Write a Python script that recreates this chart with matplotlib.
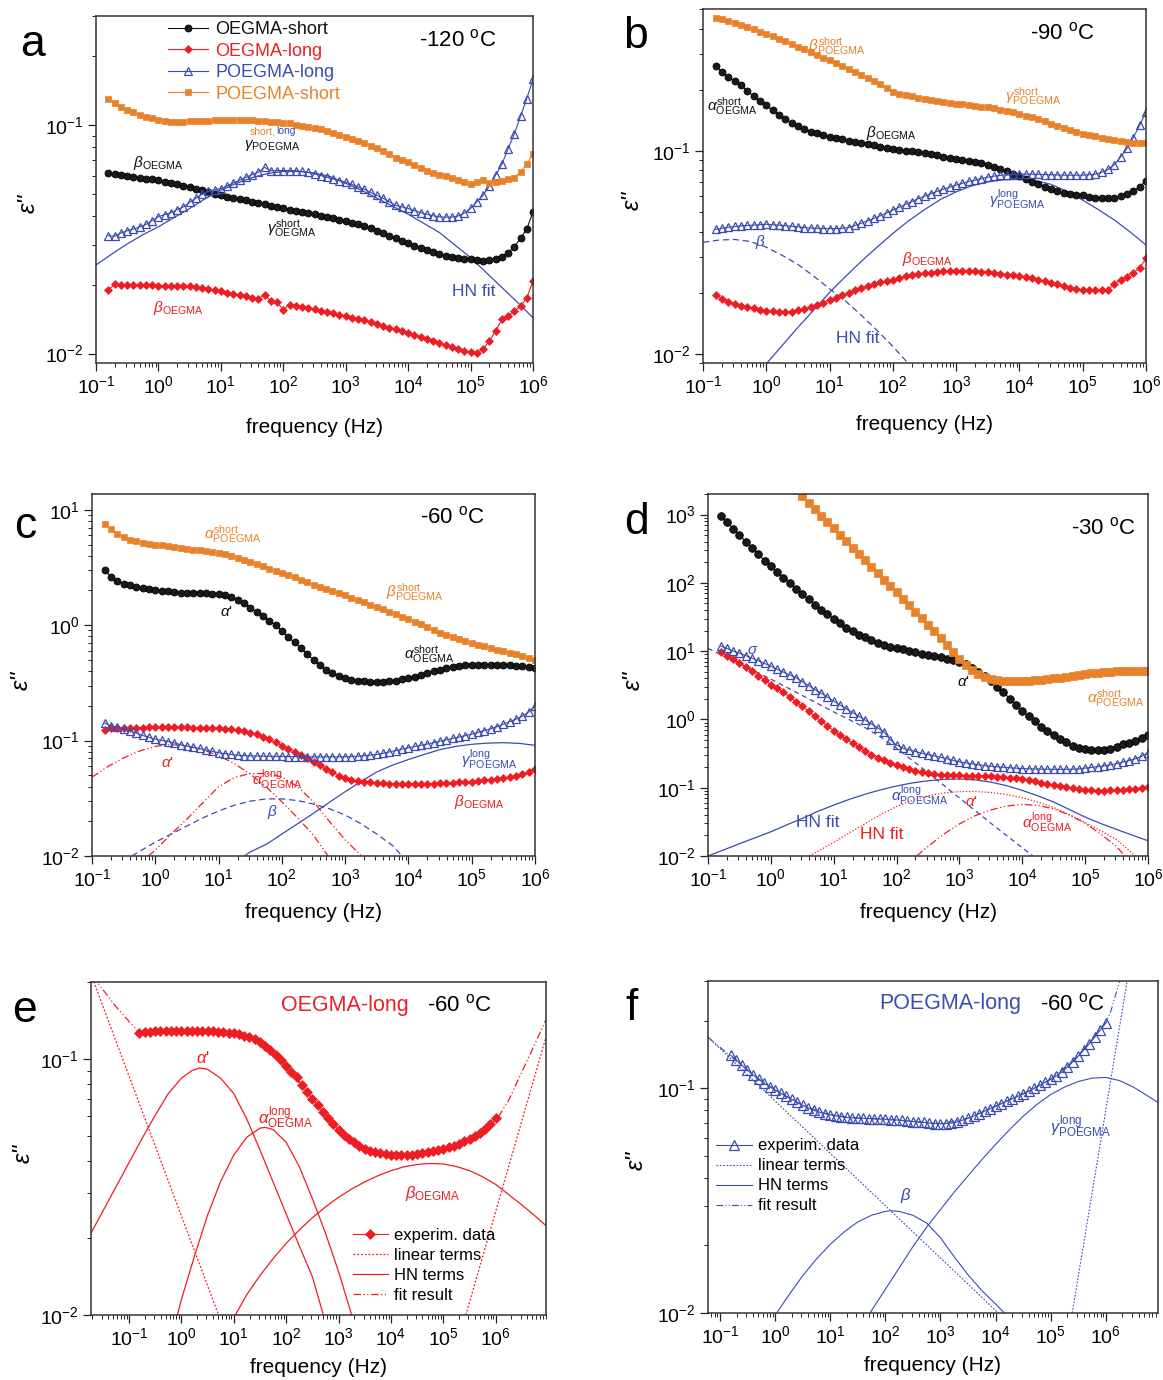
import numpy as np
import matplotlib
matplotlib.use("Agg")
import matplotlib.pyplot as plt
from matplotlib.ticker import LogLocator, NullFormatter
from matplotlib.lines import Line2D

plt.rcParams['font.family'] = ['Liberation Sans', 'DejaVu Sans']
plt.rcParams['mathtext.fontset'] = 'custom'
plt.rcParams['mathtext.rm'] = 'Liberation Sans'
plt.rcParams['mathtext.it'] = 'Liberation Sans:italic'
plt.rcParams['mathtext.bf'] = 'Liberation Sans:bold'
plt.rcParams['mathtext.sf'] = 'Liberation Sans'

nan = float('nan')

# ---------------- data (stored as log10) ----------------
# measurement frequencies, log10(f / Hz)
LOGF = [-0.8, -0.7, -0.6, -0.5, -0.4, -0.3, -0.2, -0.1, 0.0, 0.1,
        0.2, 0.3, 0.4, 0.5, 0.6, 0.7, 0.8, 0.9, 1.0, 1.1,
        1.2, 1.3, 1.4, 1.5, 1.6, 1.7, 1.8, 1.9, 2.0, 2.1,
        2.2, 2.3, 2.4, 2.5, 2.6, 2.7, 2.8, 2.9, 3.0, 3.1,
        3.2, 3.3, 3.4, 3.5, 3.6, 3.7, 3.8, 3.9, 4.0, 4.1,
        4.2, 4.3, 4.4, 4.5, 4.6, 4.7, 4.8, 4.9, 5.0, 5.1,
        5.2, 5.3, 5.4, 5.5, 5.6, 5.7, 5.8, 5.9, 6.0]

# panel a, -120 C : log10(eps'')
A_OEGMA_SHORT = [-1.210, -1.214, -1.218, -1.222, -1.226, -1.230, -1.234, -1.238, -1.242, -1.247,
                 -1.253, -1.259, -1.265, -1.271, -1.279, -1.286, -1.293, -1.300, -1.307, -1.313,
                 -1.319, -1.324, -1.330, -1.335, -1.341, -1.347, -1.353, -1.359, -1.365, -1.370,
                 -1.375, -1.380, -1.385, -1.390, -1.396, -1.402, -1.408, -1.414, -1.420, -1.427,
                 -1.435, -1.443, -1.452, -1.462, -1.473, -1.484, -1.495, -1.506, -1.517, -1.527,
                 -1.537, -1.547, -1.556, -1.565, -1.572, -1.578, -1.582, -1.585, -1.587, -1.592,
                 -1.594, -1.592, -1.585, -1.576, -1.560, -1.532, -1.496, -1.455, -1.380]
A_OEGMA_LONG = [-1.720, -1.697, -1.700, -1.701, -1.700, -1.700, -1.701, -1.701, -1.702, -1.702,
                -1.703, -1.704, -1.705, -1.706, -1.710, -1.714, -1.718, -1.723, -1.728, -1.733,
                -1.738, -1.743, -1.749, -1.755, -1.761, -1.742, -1.771, -1.776, -1.807, -1.786,
                -1.790, -1.795, -1.800, -1.806, -1.812, -1.818, -1.824, -1.830, -1.836, -1.842,
                -1.848, -1.855, -1.862, -1.870, -1.878, -1.886, -1.894, -1.901, -1.909, -1.918,
                -1.927, -1.936, -1.945, -1.954, -1.963, -1.972, -1.980, -1.988, -1.995, -1.996,
                -1.981, -1.945, -1.901, -1.850, -1.836, -1.814, -1.793, -1.757, -1.681]
A_POEGMA_LONG = [-1.484, -1.486, -1.472, -1.462, -1.455, -1.445, -1.435, -1.418, -1.401, -1.392,
                 -1.383, -1.370, -1.358, -1.338, -1.320, -1.303, -1.290, -1.283, -1.278, -1.266,
                 -1.253, -1.241, -1.229, -1.217, -1.206, -1.185, -1.200, -1.199, -1.199, -1.199,
                 -1.200, -1.203, -1.207, -1.214, -1.221, -1.229, -1.236, -1.243, -1.249, -1.260,
                 -1.271, -1.281, -1.295, -1.308, -1.320, -1.336, -1.351, -1.358, -1.365, -1.374,
                 -1.383, -1.390, -1.397, -1.401, -1.403, -1.403, -1.398, -1.385, -1.365, -1.336,
                 -1.307, -1.267, -1.220, -1.172, -1.104, -1.039, -0.962, -0.884, -0.800]
A_POEGMA_SHORT = [-0.887, -0.904, -0.920, -0.933, -0.945, -0.957, -0.964, -0.970, -0.977, -0.982,
                  -0.985, -0.986, -0.985, -0.984, -0.983, -0.982, -0.981, -0.980, -0.979, -0.978,
                  -0.978, -0.978, -0.979, -0.980, -0.981, -0.983, -0.985, -0.987, -0.989, -0.993,
                  -0.998, -1.003, -1.008, -1.013, -1.019, -1.026, -1.034, -1.043, -1.053, -1.062,
                  -1.071, -1.080, -1.090, -1.101, -1.114, -1.128, -1.142, -1.152, -1.162, -1.175,
                  -1.187, -1.199, -1.209, -1.217, -1.224, -1.230, -1.240, -1.250, -1.259, -1.250,
                  -1.239, -1.252, -1.247, -1.243, -1.238, -1.230, -1.204, -1.170, -1.126]
A_FIT_LOGF = [-1.0, -0.75, -0.5, -0.25, 0.0, 0.25, 0.5, 0.75, 1.0, 1.25, 1.5, 1.75, 2.0, 2.25, 2.5,
              2.75, 3.0, 3.25, 3.5, 3.75, 4.0, 4.25, 4.5, 4.75, 5.0, 5.25, 5.5, 5.75, 6.0]
A_FIT = [-1.612, -1.565, -1.52, -1.48, -1.445, -1.405, -1.365, -1.322, -1.285, -1.255, -1.23, -1.212,
         -1.203, -1.203, -1.21, -1.225, -1.255, -1.285, -1.32, -1.355, -1.39, -1.43, -1.47, -1.525,
         -1.58, -1.645, -1.71, -1.775, -1.843]

# panel b, -90 C
B_OEGMA_SHORT = [-0.582, -0.612, -0.636, -0.657, -0.678, -0.704, -0.731, -0.754, -0.775, -0.800,
                 -0.822, -0.843, -0.862, -0.880, -0.894, -0.905, -0.913, -0.923, -0.931, -0.937,
                 -0.943, -0.950, -0.956, -0.962, -0.967, -0.973, -0.979, -0.984, -0.989, -0.994,
                 -0.999, -1.003, -1.008, -1.012, -1.017, -1.022, -1.028, -1.033, -1.038, -1.044,
                 -1.050, -1.056, -1.062, -1.069, -1.078, -1.088, -1.100, -1.113, -1.126, -1.138,
                 -1.152, -1.165, -1.177, -1.188, -1.198, -1.207, -1.213, -1.217, -1.220, -1.226,
                 -1.231, -1.234, -1.234, -1.231, -1.224, -1.215, -1.200, -1.177, -1.149]
B_OEGMA_LONG = [-1.710, -1.728, -1.743, -1.756, -1.767, -1.772, -1.777, -1.783, -1.789, -1.791,
                -1.792, -1.792, -1.792, -1.787, -1.779, -1.770, -1.760, -1.748, -1.734, -1.724,
                -1.713, -1.699, -1.685, -1.675, -1.665, -1.656, -1.649, -1.642, -1.636, -1.627,
                -1.619, -1.613, -1.608, -1.604, -1.600, -1.597, -1.594, -1.592, -1.590, -1.591,
                -1.592, -1.593, -1.595, -1.598, -1.602, -1.606, -1.610, -1.613, -1.616, -1.622,
                -1.629, -1.636, -1.643, -1.650, -1.658, -1.667, -1.675, -1.681, -1.685, -1.687,
                -1.688, -1.688, -1.685, -1.655, -1.637, -1.620, -1.600, -1.579, -1.530]
B_POEGMA_LONG = [-1.387, -1.382, -1.377, -1.373, -1.370, -1.368, -1.366, -1.364, -1.362, -1.364,
                 -1.366, -1.369, -1.372, -1.375, -1.378, -1.381, -1.382, -1.383, -1.383, -1.383,
                 -1.382, -1.378, -1.368, -1.357, -1.345, -1.333, -1.320, -1.306, -1.292, -1.278,
                 -1.264, -1.250, -1.236, -1.224, -1.212, -1.200, -1.189, -1.179, -1.169, -1.160,
                 -1.151, -1.144, -1.137, -1.130, -1.125, -1.121, -1.118, -1.116, -1.115, -1.115,
                 -1.115, -1.116, -1.117, -1.118, -1.119, -1.120, -1.120, -1.120, -1.120, -1.118,
                 -1.115, -1.106, -1.092, -1.068, -1.030, -0.988, -0.935, -0.874, -0.808]
B_POEGMA_SHORT = [-0.344, -0.352, -0.362, -0.372, -0.382, -0.392, -0.402, -0.412, -0.423, -0.435,
                  -0.447, -0.459, -0.472, -0.486, -0.500, -0.515, -0.528, -0.541, -0.554, -0.568,
                  -0.582, -0.596, -0.611, -0.625, -0.640, -0.656, -0.672, -0.690, -0.708, -0.718,
                  -0.726, -0.732, -0.738, -0.744, -0.749, -0.754, -0.759, -0.763, -0.767, -0.770,
                  -0.774, -0.778, -0.782, -0.786, -0.791, -0.797, -0.804, -0.811, -0.818, -0.826,
                  -0.835, -0.845, -0.855, -0.866, -0.877, -0.888, -0.898, -0.907, -0.915, -0.922,
                  -0.929, -0.936, -0.942, -0.948, -0.953, -0.957, -0.960, -0.961, -0.962]
B_GAMMA_LOGF = [0.0, 0.25, 0.5, 0.75, 1.0, 1.25, 1.5, 1.75, 2.0, 2.25, 2.5, 2.75, 3.0, 3.25, 3.5,
                3.75, 4.0, 4.25, 4.5, 4.75, 5.0, 5.25, 5.5, 5.75, 6.0]
B_GAMMA = [-2.05, -1.96, -1.87, -1.785, -1.698, -1.62, -1.545, -1.475, -1.407, -1.345, -1.29, -1.24,
           -1.202, -1.172, -1.153, -1.143, -1.141, -1.147, -1.165, -1.2, -1.243, -1.29, -1.341,
           -1.40, -1.464]
B_BETA_LOGF = [-1.0, -0.75, -0.5, -0.25, 0.0, 0.25, 0.5, 0.75, 1.0, 1.25, 1.5, 1.75, 2.0, 2.25]
B_BETA = [-1.451, -1.440, -1.437, -1.447, -1.475, -1.515, -1.560, -1.618, -1.680, -1.740, -1.810,
          -1.885, -1.964, -2.05]

# panel c, -60 C
C_OEGMA_SHORT = [0.478, 0.419, 0.380, 0.358, 0.346, 0.330, 0.320, 0.310, 0.302, 0.297,
                 0.292, 0.287, 0.282, 0.279, 0.277, 0.276, 0.275, 0.274, 0.272, 0.258,
                 0.240, 0.218, 0.190, 0.152, 0.117, 0.082, 0.040, 0.000, -0.050, -0.105,
                 -0.150, -0.200, -0.250, -0.300, -0.345, -0.387, -0.415, -0.440, -0.460, -0.473,
                 -0.482, -0.487, -0.490, -0.490, -0.489, -0.487, -0.480, -0.470, -0.460, -0.446,
                 -0.431, -0.416, -0.400, -0.385, -0.371, -0.360, -0.352, -0.347, -0.344, -0.342,
                 -0.341, -0.341, -0.342, -0.344, -0.347, -0.350, -0.355, -0.360, -0.367]
C_OEGMA_LONG = [-0.906, -0.894, -0.891, -0.890, -0.889, -0.888, -0.887, -0.886, -0.886, -0.886,
                -0.886, -0.886, -0.886, -0.886, -0.887, -0.888, -0.889, -0.891, -0.894, -0.898,
                -0.903, -0.910, -0.920, -0.932, -0.947, -0.965, -0.990, -1.015, -1.043, -1.072,
                -1.100, -1.128, -1.155, -1.183, -1.212, -1.243, -1.275, -1.303, -1.325, -1.340,
                -1.350, -1.357, -1.363, -1.368, -1.371, -1.373, -1.374, -1.375, -1.375, -1.375,
                -1.374, -1.373, -1.372, -1.370, -1.368, -1.365, -1.362, -1.358, -1.355, -1.350,
                -1.345, -1.339, -1.332, -1.325, -1.316, -1.305, -1.292, -1.275, -1.246]
C_POEGMA_LONG = [-0.848, -0.871, -0.885, -0.900, -0.915, -0.935, -0.955, -0.972, -0.988, -0.998,
                 -1.008, -1.020, -1.035, -1.048, -1.058, -1.068, -1.080, -1.093, -1.105, -1.113,
                 -1.120, -1.127, -1.130, -1.132, -1.134, -1.135, -1.136, -1.137, -1.137, -1.138,
                 -1.139, -1.140, -1.140, -1.141, -1.141, -1.141, -1.141, -1.141, -1.140, -1.138,
                 -1.135, -1.131, -1.126, -1.120, -1.110, -1.098, -1.086, -1.074, -1.062, -1.051,
                 -1.040, -1.030, -1.018, -1.005, -0.993, -0.981, -0.969, -0.957, -0.944, -0.929,
                 -0.913, -0.897, -0.880, -0.858, -0.836, -0.814, -0.788, -0.752, -0.701]
C_POEGMA_SHORT = [0.874, 0.830, 0.790, 0.765, 0.742, 0.727, 0.716, 0.706, 0.698, 0.691,
                  0.684, 0.677, 0.670, 0.663, 0.655, 0.648, 0.640, 0.633, 0.625, 0.613,
                  0.600, 0.586, 0.567, 0.549, 0.531, 0.510, 0.490, 0.472, 0.455, 0.437,
                  0.416, 0.395, 0.373, 0.350, 0.332, 0.313, 0.295, 0.277, 0.258, 0.238,
                  0.218, 0.197, 0.177, 0.157, 0.137, 0.116, 0.095, 0.074, 0.053, 0.030,
                  0.006, -0.018, -0.042, -0.064, -0.083, -0.101, -0.119, -0.136, -0.153, -0.168,
                  -0.183, -0.197, -0.211, -0.225, -0.240, -0.254, -0.269, -0.284, -0.299]
C_ALPHAP_LOGF = [-1.0, -0.75, -0.5, -0.25, 0.0, 0.25, 0.5, 0.75, 1.0, 1.25, 1.5, 1.75, 2.0, 2.25, 2.5, 2.73]
C_ALPHAP = [-1.317, -1.225, -1.150, -1.090, -1.050, -1.035, -1.045, -1.080, -1.130, -1.200, -1.290,
            -1.400, -1.530, -1.670, -1.820, -2.0]
C_ALPHAL_LOGF = [-0.11, 0.0, 0.25, 0.5, 0.75, 1.0, 1.25, 1.5, 1.75, 2.0, 2.25, 2.5, 2.75, 3.0, 3.26]
C_ALPHAL = [-2.0, -1.95, -1.81, -1.68, -1.54, -1.40, -1.32, -1.285, -1.285, -1.315, -1.40, -1.53,
            -1.70, -1.86, -2.0]
C_BETA_LOGF = [-0.37, -0.25, 0.0, 0.25, 0.5, 0.75, 1.0, 1.25, 1.5, 1.75, 2.0, 2.25, 2.5, 2.75, 3.0,
               3.25, 3.5, 3.75, 3.9]
C_BETA = [-2.0, -1.96, -1.88, -1.81, -1.74, -1.67, -1.61, -1.56, -1.525, -1.505, -1.505, -1.52,
          -1.55, -1.59, -1.645, -1.72, -1.81, -1.91, -2.0]
C_GAMMA_LOGF = [1.41, 1.5, 1.75, 2.0, 2.25, 2.5, 2.75, 3.0, 3.25, 3.5, 3.75, 4.0, 4.25, 4.5, 4.75,
                5.0, 5.25, 5.5, 5.75, 6.0]
C_GAMMA = [-2.0, -1.965, -1.90, -1.81, -1.72, -1.63, -1.535, -1.443, -1.355, -1.272, -1.212, -1.164,
           -1.12, -1.078, -1.05, -1.032, -1.022, -1.018, -1.024, -1.041]

# panel d, -30 C
D_OEGMA_SHORT = [2.975, 2.890, 2.790, 2.700, 2.605, 2.510, 2.420, 2.325, 2.245, 2.160,
                 2.075, 1.995, 1.915, 1.835, 1.757, 1.680, 1.607, 1.540, 1.475, 1.408,
                 1.345, 1.290, 1.240, 1.200, 1.158, 1.120, 1.087, 1.062, 1.043, 1.025,
                 1.006, 0.984, 0.962, 0.945, 0.929, 0.910, 0.890, 0.868, 0.842, 0.810,
                 0.760, 0.700, 0.632, 0.562, 0.480, 0.395, 0.305, 0.215, 0.123, 0.045,
                 -0.030, -0.105, -0.170, -0.230, -0.285, -0.335, -0.383, -0.415, -0.432, -0.443,
                 -0.448, -0.446, -0.432, -0.398, -0.365, -0.338, -0.310, -0.270, -0.224]
D_OEGMA_LONG = [0.991, 0.930, 0.884, 0.830, 0.768, 0.705, 0.640, 0.575, 0.510, 0.455,
                0.396, 0.330, 0.260, 0.190, 0.120, 0.048, -0.022, -0.095, -0.166, -0.235,
                -0.290, -0.345, -0.400, -0.457, -0.517, -0.560, -0.600, -0.637, -0.668, -0.700,
                -0.730, -0.752, -0.772, -0.790, -0.803, -0.810, -0.814, -0.817, -0.819, -0.822,
                -0.825, -0.828, -0.831, -0.834, -0.838, -0.845, -0.852, -0.860, -0.869, -0.885,
                -0.905, -0.927, -0.946, -0.965, -0.982, -0.996, -1.010, -1.022, -1.032, -1.038,
                -1.042, -1.043, -1.040, -1.035, -1.028, -1.020, -1.012, -1.003, -0.993]
D_POEGMA_LONG = [1.075, 1.041, 1.000, 0.970, 0.935, 0.898, 0.858, 0.820, 0.780, 0.735,
                 0.693, 0.652, 0.610, 0.553, 0.495, 0.438, 0.384, 0.327, 0.268, 0.210,
                 0.156, 0.100, 0.046, -0.010, -0.068, -0.125, -0.180, -0.300, -0.375, -0.420,
                 -0.448, -0.470, -0.495, -0.515, -0.535, -0.555, -0.575, -0.600, -0.621, -0.636,
                 -0.650, -0.664, -0.676, -0.686, -0.694, -0.701, -0.708, -0.714, -0.720, -0.723,
                 -0.726, -0.728, -0.729, -0.730, -0.730, -0.730, -0.729, -0.724, -0.712, -0.703,
                 -0.692, -0.680, -0.665, -0.646, -0.626, -0.602, -0.575, -0.540, -0.487]
D_POEGMA_SHORT = [nan, nan, nan, nan, nan, nan, nan, nan, nan, nan,
                  nan, nan, 3.36, 3.27, 3.17, 3.08, 2.98, 2.89, 2.80, 2.70,
                  2.61, 2.51, 2.42, 2.33, 2.23, 2.14, 2.04, 1.95, 1.86, 1.76,
                  1.67, 1.57, 1.48, 1.38, 1.29, 1.19, 1.09, 0.99, 0.89, 0.80,
                  0.72, 0.66, 0.62, 0.59, 0.575, 0.567, 0.563, 0.562, 0.562, 0.565,
                  0.570, 0.578, 0.588, 0.600, 0.612, 0.625, 0.638, 0.650, 0.662, 0.673,
                  0.683, 0.691, 0.698, 0.703, 0.706, 0.708, 0.709, 0.709, 0.708]
D_SIGMA_LOGF = [-1.0, -0.5, 0.0, 0.5, 1.0, 1.5, 1.75, 2.0, 2.5, 3.0, 3.5, 4.0, 4.17]
D_SIGMA = [1.04, 0.82, 0.59, 0.35, 0.11, -0.12, -0.26, -0.42, -0.78, -1.15, -1.52, -1.88, -2.0]
D_HNB_LOGF = [-1.0, -0.75, -0.5, -0.25, 0.0, 0.25, 0.5, 0.75, 1.0, 1.25, 1.5, 1.75, 2.0, 2.25, 2.5,
              2.75, 3.0, 3.25, 3.5, 3.75, 4.0, 4.25, 4.5, 4.75, 5.0, 5.25, 5.5, 5.75, 6.0]
D_HNB = [-2.0, -1.91, -1.82, -1.733, -1.645, -1.545, -1.45, -1.345, -1.255, -1.17, -1.095, -1.03,
         -0.975, -0.93, -0.898, -0.878, -0.872, -0.885, -0.918, -0.97, -1.04, -1.12, -1.21, -1.32,
         -1.43, -1.525, -1.61, -1.695, -1.777]
D_HNR1_LOGF = [0.61, 0.75, 1.0, 1.25, 1.5, 1.75, 2.0, 2.25, 2.5, 2.75, 3.0, 3.25, 3.5, 3.75, 4.0,
               4.25, 4.5, 4.75, 5.0, 5.25, 5.5, 5.8]
D_HNR1 = [-2.0, -1.93, -1.80, -1.66, -1.525, -1.39, -1.275, -1.185, -1.12, -1.077, -1.057, -1.055,
          -1.07, -1.10, -1.145, -1.21, -1.29, -1.395, -1.51, -1.63, -1.76, -2.0]
D_HNR2_LOGF = [2.32, 2.5, 2.75, 3.0, 3.25, 3.5, 3.75, 4.0, 4.25, 4.5, 4.75, 5.0, 5.25, 5.5, 5.63]
D_HNR2 = [-2.0, -1.86, -1.68, -1.53, -1.41, -1.325, -1.268, -1.245, -1.258, -1.31, -1.40, -1.52,
          -1.68, -1.86, -2.0]

# panel e, OEGMA-long -60 C
E_DATA = [-0.899, -0.895, -0.893, -0.892, -0.892, -0.892, -0.891, -0.891, -0.890, -0.890,
          -0.890, -0.890, -0.890, -0.891, -0.892, -0.893, -0.895, -0.897, -0.900, -0.904,
          -0.908, -0.913, -0.920, -0.932, -0.948, -0.965, -0.985, -1.005, -1.028, -1.050,
          -1.072, -1.100, -1.130, -1.155, -1.180, -1.205, -1.232, -1.255, -1.278, -1.298,
          -1.312, -1.325, -1.340, -1.350, -1.358, -1.365, -1.369, -1.372, -1.374, -1.375,
          -1.375, -1.374, -1.373, -1.370, -1.367, -1.364, -1.360, -1.355, -1.350, -1.345,
          -1.338, -1.331, -1.322, -1.312, -1.300, -1.288, -1.272, -1.253, -1.232]
E_LIN1_LOGF = [-1.725, 0.71]
E_LIN1 = [-0.670, -2.0]
E_LIN2_LOGF = [5.43, 6.96]
E_LIN2 = [-2.0, -0.914]
E_FIT_LOGF = [-1.70, -1.5, -1.25, -1.0, -0.82, 0.0, 1.0, 1.5, 2.0, 2.5, 3.0, 3.5, 4.0, 4.5, 5.0, 5.5,
              6.04, 6.25, 6.5, 6.75, 6.96]
E_FIT = [-0.675, -0.728, -0.795, -0.853, -0.893, -0.890, -0.900, -0.932, -1.028, -1.155, -1.278,
         -1.350, -1.374, -1.370, -1.350, -1.312, -1.23, -1.16, -1.05, -0.94, -0.846]
E_HN1_LOGF = [-1.725, -1.5, -1.25, -1.0, -0.75, -0.5, -0.25, 0.0, 0.2, 0.35, 0.5, 0.75, 1.0, 1.25,
              1.5, 1.75, 2.0, 2.25, 2.5, 2.71]
E_HN1 = [-1.68, -1.595, -1.50, -1.405, -1.31, -1.22, -1.135, -1.075, -1.045, -1.035, -1.04, -1.075,
         -1.135, -1.235, -1.355, -1.48, -1.605, -1.73, -1.85, -2.0]
E_HN2_LOGF = [-0.076, 0.0, 0.25, 0.5, 0.75, 1.0, 1.25, 1.5, 1.6, 1.75, 2.0, 2.25, 2.5, 2.75, 3.0, 3.25]
E_HN2 = [-2.0, -1.94, -1.77, -1.61, -1.478, -1.375, -1.305, -1.27, -1.267, -1.275, -1.325, -1.42,
         -1.545, -1.68, -1.83, -2.0]
E_HN3_LOGF = [1.03, 1.25, 1.5, 1.75, 2.0, 2.25, 2.5, 2.75, 3.0, 3.25, 3.5, 3.75, 4.0, 4.25, 4.5,
              4.75, 5.0, 5.25, 5.5, 5.75, 6.0, 6.25, 6.5, 6.75, 6.96]
E_HN3 = [-2.0, -1.92, -1.846, -1.78, -1.72, -1.668, -1.62, -1.578, -1.54, -1.508, -1.48, -1.456,
         -1.436, -1.421, -1.412, -1.408, -1.41, -1.42, -1.436, -1.46, -1.49, -1.53, -1.57, -1.613,
         -1.651]

# panel f, POEGMA-long -60 C
F_DATA = [-0.854, -0.876, -0.897, -0.920, -0.941, -0.960, -0.978, -0.993, -1.007, -1.022,
          -1.036, -1.049, -1.062, -1.076, -1.088, -1.098, -1.106, -1.113, -1.118, -1.123,
          -1.127, -1.130, -1.132, -1.133, -1.134, -1.135, -1.136, -1.137, -1.138, -1.140,
          -1.141, -1.143, -1.145, -1.148, -1.150, -1.152, -1.155, -1.157, -1.158, -1.157,
          -1.155, -1.150, -1.142, -1.134, -1.124, -1.113, -1.102, -1.091, -1.080, -1.069,
          -1.058, -1.047, -1.036, -1.025, -1.014, -1.001, -0.987, -0.973, -0.960, -0.946,
          -0.928, -0.906, -0.883, -0.857, -0.830, -0.802, -0.772, -0.740, -0.709]
F_LIN1_LOGF = [-1.216, 4.05]
F_LIN1 = [-0.773, -2.0]
F_LIN2_LOGF = [5.39, 6.385]
F_LIN2 = [-2.0, -0.525]
F_FIT_LOGF = [-1.216, -0.81, -0.4, 0.0, 0.5, 1.0, 1.5, 2.0, 2.5, 3.0, 3.5, 4.0, 4.5, 5.0, 5.5, 6.0,
              6.1, 6.2, 6.26]
F_FIT = [-0.773, -0.856, -0.941, -1.007, -1.076, -1.118, -1.133, -1.138, -1.148, -1.158, -1.134,
         -1.080, -1.025, -0.960, -0.857, -0.709, -0.65, -0.565, -0.52]
F_HN1_LOGF = [0.03, 0.25, 0.5, 0.75, 1.0, 1.25, 1.5, 1.75, 2.0, 2.1, 2.25, 2.5, 2.75, 3.0, 3.25,
              3.5, 3.75, 4.0, 4.16]
F_HN1 = [-2.0, -1.92, -1.835, -1.76, -1.695, -1.64, -1.595, -1.565, -1.548, -1.545, -1.548, -1.565,
         -1.60, -1.665, -1.75, -1.83, -1.90, -1.96, -2.0]
F_HN2_LOGF = [1.72, 2.0, 2.25, 2.5, 2.75, 3.0, 3.25, 3.5, 3.75, 4.0, 4.25, 4.5, 4.75, 5.0, 5.25, 5.5,
              5.75, 6.0, 6.25, 6.5, 6.75, 6.946]
F_HN2 = [-2.0, -1.895, -1.80, -1.705, -1.618, -1.540, -1.462, -1.390, -1.318, -1.250, -1.185, -1.125,
         -1.072, -1.028, -0.995, -0.970, -0.955, -0.952, -0.966, -0.995, -1.033, -1.063]

SERIES_NAMES = ['OEGMA-short', 'OEGMA-long', 'POEGMA-long', 'POEGMA-short']

# ---------------- styles ----------------
BLACK = '#111111'
RED = '#EE1D23'
BLUE = '#3A4CB0'
ORANGE = '#E8822A'
EPS_LABEL = "\u03b5''"


def st_black(ms=5.0):
    return dict(color=BLACK, marker='o', ms=ms, mfc='#1a1a1a', mec='#000000', mew=0.6, lw=0.8, ls='-')


def st_red(ms=4.0):
    return dict(color=RED, marker='D', ms=ms, mfc=RED, mec=RED, mew=0.5, lw=0.8, ls='-')


def st_blue(ms=5.5):
    return dict(color=BLUE, marker='^', ms=ms, mfc='none', mec=BLUE, mew=0.9, lw=0.8, ls='-')


def st_orange(ms=5.0):
    return dict(color=ORANGE, marker='s', ms=ms, mfc=ORANGE, mec=ORANGE, mew=0.5, lw=0.8, ls='-')


def P(v):
    return np.power(10.0, np.asarray(v, dtype=float))


fig = plt.figure(figsize=(11.63, 13.80), dpi=100)
W, H = 1163.0, 1380.0


def make_ax(l, t, r, b):
    return fig.add_axes([l / W, 1 - b / H, (r - l) / W, (b - t) / H])


def style_ax(ax, xlim, ylim, ylab_xy, xlab_y):
    ax.set_xscale('log')
    ax.set_yscale('log')
    ax.set_xlim(*xlim)
    ax.set_ylim(*ylim)
    for axis in (ax.xaxis, ax.yaxis):
        axis.set_major_locator(LogLocator(base=10, numticks=30))
        axis.set_minor_locator(LogLocator(base=10, subs=[2, 3, 4, 5, 6, 7, 8, 9], numticks=30))
        axis.set_minor_formatter(NullFormatter())
    ax.tick_params(which='both', direction='out', top=False, right=False, labelsize=14,
                   color='#222222')
    ax.tick_params(which='major', length=5.5, width=0.9)
    ax.tick_params(which='minor', length=3, width=0.7)
    for s in ax.spines.values():
        s.set_linewidth(1.1)
        s.set_color('#333333')
    ax.set_xlabel('frequency (Hz)', fontsize=15)
    ax.xaxis.set_label_coords(0.5, xlab_y)
    ax.set_ylabel(EPS_LABEL, fontsize=17, fontstyle='italic')
    ax.yaxis.set_label_coords(*ylab_xy)


def txt(ax, x, y, s, color, size=11, ha='left'):
    ax.text(x, y, s, transform=ax.transAxes, color=color, fontsize=size, ha=ha, va='center')


ALPHA_P = r"$\alpha$'"
FREQ = P(LOGF)

# ================= panel a =================
ax = make_ax(96, 16, 533, 363)
style_ax(ax, (0.1, 1e6), (0.0091, 0.30), (-0.13, 0.46), -0.158)
ax.plot(P(A_FIT_LOGF), P(A_FIT), color=BLUE, lw=0.9)
h1, = ax.plot(FREQ, P(A_OEGMA_SHORT), **st_black())
h2, = ax.plot(FREQ, P(A_OEGMA_LONG), **st_red())
h3, = ax.plot(FREQ, P(A_POEGMA_LONG), **st_blue())
h4, = ax.plot(FREQ, P(A_POEGMA_SHORT), **st_orange())
leg = ax.legend([h1, h2, h3, h4], SERIES_NAMES, loc='upper left', bbox_to_anchor=(0.165, 0.985),
                frameon=False, fontsize=13, handlelength=2.2, handletextpad=0.4,
                labelspacing=0.25, borderpad=0, borderaxespad=0, numpoints=1)
for t, c in zip(leg.get_texts(), [BLACK, RED, BLUE, ORANGE]):
    t.set_color(c)
txt(ax, 0.827, 0.929, r'-120 $^{\rm o}$C', 'black', 16, 'center')
txt(ax, 0.338, 0.626, r'$\gamma_{\rm POEGMA}$', BLACK)
txt(ax, 0.352, 0.668, 'short,', ORANGE, 7.5)
txt(ax, 0.412, 0.668, 'long', BLUE, 7.5)
txt(ax, 0.085, 0.577, r'$\beta_{\rm OEGMA}$', BLACK)
txt(ax, 0.391, 0.390, r'$\gamma^{\rm short}_{\rm OEGMA}$', BLACK)
txt(ax, 0.130, 0.159, r'$\beta_{\rm OEGMA}$', RED)
txt(ax, 0.814, 0.206, 'HN fit', BLUE, 12.5)

# ================= panel b =================
ax = make_ax(703, 9, 1146, 363)
style_ax(ax, (0.1, 1e6), (0.009, 0.5), (-0.135, 0.46), -0.148)
ax.plot(P(B_GAMMA_LOGF), P(B_GAMMA), color=BLUE, lw=0.9)
ax.plot(P(B_BETA_LOGF), P(B_BETA), color=BLUE, lw=0.9, ls=(0, (5, 3)))
ax.plot(FREQ, P(B_OEGMA_SHORT), **st_black())
ax.plot(FREQ, P(B_OEGMA_LONG), **st_red())
ax.plot(FREQ, P(B_POEGMA_LONG), **st_blue())
ax.plot(FREQ, P(B_POEGMA_SHORT), **st_orange())
txt(ax, 0.812, 0.930, r'-90 $^{\rm o}$C', 'black', 16, 'center')
txt(ax, 0.238, 0.894, r'$\beta^{\rm short}_{\rm POEGMA}$', ORANGE)
txt(ax, 0.682, 0.754, r'$\gamma^{\rm short}_{\rm POEGMA}$', ORANGE)
txt(ax, 0.008, 0.726, r'$\alpha^{\rm short}_{\rm OEGMA}$', BLACK)
txt(ax, 0.369, 0.651, r'$\beta_{\rm OEGMA}$', BLACK)
txt(ax, 0.645, 0.462, r'$\gamma^{\rm long}_{\rm POEGMA}$', BLUE)
txt(ax, 0.118, 0.342, r'$\beta$', BLUE)
txt(ax, 0.449, 0.295, r'$\beta_{\rm OEGMA}$', RED)
txt(ax, 0.300, 0.070, 'HN fit', BLUE, 12.5)

# ================= panel c =================
ax = make_ax(92, 494, 535, 856)
style_ax(ax, (0.1, 1e6), (0.01, 13.7), (-0.135, 0.486), -0.13)
DDOT = (0, (6, 2, 1, 2, 1, 2))
ax.plot(P(C_ALPHAP_LOGF), P(C_ALPHAP), color=RED, lw=0.9, ls=DDOT)
ax.plot(P(C_ALPHAL_LOGF), P(C_ALPHAL), color=RED, lw=0.9, ls=DDOT)
ax.plot(P(C_BETA_LOGF), P(C_BETA), color=BLUE, lw=0.9, ls=(0, (5, 3)))
ax.plot(P(C_GAMMA_LOGF), P(C_GAMMA), color=BLUE, lw=0.9)
ax.plot(FREQ, P(C_OEGMA_SHORT), **st_black())
ax.plot(FREQ, P(C_OEGMA_LONG), **st_red())
ax.plot(FREQ, P(C_POEGMA_LONG), **st_blue())
ax.plot(FREQ, P(C_POEGMA_SHORT), **st_orange())
txt(ax, 0.813, 0.935, r'-60 $^{\rm o}$C', 'black', 16, 'center')
txt(ax, 0.253, 0.890, r'$\alpha^{\rm short}_{\rm POEGMA}$', ORANGE)
txt(ax, 0.663, 0.730, r'$\beta^{\rm short}_{\rm POEGMA}$', ORANGE)
txt(ax, 0.290, 0.673, ALPHA_P, BLACK)
txt(ax, 0.705, 0.557, r'$\alpha^{\rm short}_{\rm OEGMA}$', BLACK)
txt(ax, 0.834, 0.268, r'$\gamma^{\rm long}_{\rm POEGMA}$', BLUE)
txt(ax, 0.156, 0.257, ALPHA_P, RED)
txt(ax, 0.362, 0.212, r'$\alpha^{\rm long}_{\rm OEGMA}$', RED)
txt(ax, 0.395, 0.121, r'$\beta$', BLUE)
txt(ax, 0.818, 0.150, r'$\beta_{\rm OEGMA}$', RED)

# ================= panel d =================
ax = make_ax(708, 494, 1148, 856)
style_ax(ax, (0.1, 1e6), (0.01, 2000), (-0.145, 0.486), -0.13)
ax.plot(P(D_SIGMA_LOGF), P(D_SIGMA), color=BLUE, lw=0.9, ls=(0, (4, 3)))
ax.plot(P(D_HNB_LOGF), P(D_HNB), color=BLUE, lw=0.9)
ax.plot(P(D_HNR1_LOGF), P(D_HNR1), color=RED, lw=0.9, ls=(0, (1, 1.5)))
ax.plot(P(D_HNR2_LOGF), P(D_HNR2), color=RED, lw=0.9, ls=DDOT)
ax.plot(FREQ, P(D_OEGMA_SHORT), **st_black(5.5))
ax.plot(FREQ, P(D_OEGMA_LONG), **st_red(4.5))
ax.plot(FREQ, P(D_POEGMA_LONG), **st_blue(6))
ax.plot(FREQ, P(D_POEGMA_SHORT), **st_orange(5.5))
txt(ax, 0.898, 0.906, r'-30 $^{\rm o}$C', 'black', 16, 'center')
txt(ax, 0.088, 0.569, r'$\sigma$', BLUE)
txt(ax, 0.566, 0.480, ALPHA_P, BLACK)
txt(ax, 0.862, 0.435, r'$\alpha^{\rm short}_{\rm POEGMA}$', ORANGE)
txt(ax, 0.415, 0.168, r'$\alpha^{\rm long}_{\rm POEGMA}$', BLUE)
txt(ax, 0.583, 0.148, ALPHA_P, RED)
txt(ax, 0.713, 0.093, r'$\alpha^{\rm long}_{\rm OEGMA}$', RED)
txt(ax, 0.199, 0.092, 'HN fit', BLUE, 12.5)
txt(ax, 0.346, 0.059, 'HN fit', RED, 12.5)

# ================= panel e =================
ax = make_ax(91, 982, 546, 1315)
style_ax(ax, (10 ** -1.725, 10 ** 6.96), (0.01, 0.2), (-0.125, 0.486), -0.13)
ax.plot(P(E_LIN1_LOGF), P(E_LIN1), color=RED, lw=0.9, ls=(0, (1.5, 1.5)))
ax.plot(P(E_LIN2_LOGF), P(E_LIN2), color=RED, lw=0.9, ls=(0, (1.5, 1.5)))
ax.plot(P(E_HN1_LOGF), P(E_HN1), color=RED, lw=0.9)
ax.plot(P(E_HN2_LOGF), P(E_HN2), color=RED, lw=0.9)
ax.plot(P(E_HN3_LOGF), P(E_HN3), color=RED, lw=0.9)
ax.plot(P(E_FIT_LOGF), P(E_FIT), color=RED, lw=0.9, ls=DDOT)
ax.plot(FREQ, P(E_DATA), **st_red(5.5))
hE = [Line2D([], [], **st_red(5.5)),
      Line2D([], [], color=RED, lw=0.9, ls=(0, (1.5, 1.5))),
      Line2D([], [], color=RED, lw=0.9),
      Line2D([], [], color=RED, lw=0.9, ls=DDOT)]
ax.legend(hE, ['experim. data', 'linear terms', 'HN terms', 'fit result'], loc='upper left',
          bbox_to_anchor=(0.575, 0.262), frameon=False, fontsize=12, handlelength=2.1,
          handletextpad=0.4, labelspacing=0.3, borderpad=0, borderaxespad=0, numpoints=1)
txt(ax, 0.558, 0.929, 'OEGMA-long', RED, 15.5, 'center')
txt(ax, 0.810, 0.929, r'-60 $^{\rm o}$C', 'black', 16, 'center')
txt(ax, 0.231, 0.773, ALPHA_P, RED, 12)
txt(ax, 0.366, 0.592, r'$\alpha^{\rm long}_{\rm OEGMA}$', RED, 12)
txt(ax, 0.690, 0.364, r'$\beta_{\rm OEGMA}$', RED, 12)

# ================= panel f =================
ax = make_ax(708, 981, 1158, 1313)
style_ax(ax, (10 ** -1.216, 10 ** 6.946), (0.01, 0.30), (-0.135, 0.46), -0.13)
ax.plot(P(F_LIN1_LOGF), P(F_LIN1), color=BLUE, lw=0.8, ls=(0, (1.5, 1.5)))
ax.plot(P(F_LIN2_LOGF), P(F_LIN2), color=BLUE, lw=0.8, ls=(0, (1.5, 1.5)))
ax.plot(P(F_HN1_LOGF), P(F_HN1), color=BLUE, lw=0.8)
ax.plot(P(F_HN2_LOGF), P(F_HN2), color=BLUE, lw=0.8)
ax.plot(P(F_FIT_LOGF), P(F_FIT), color=BLUE, lw=0.8, ls=DDOT)
ax.plot(FREQ, P(F_DATA), **st_blue(7))
hF = [Line2D([], [], **st_blue(7)),
      Line2D([], [], color=BLUE, lw=0.8, ls=(0, (1.5, 1.5))),
      Line2D([], [], color=BLUE, lw=0.8),
      Line2D([], [], color=BLUE, lw=0.8, ls=DDOT)]
ax.legend(hF, ['experim. data', 'linear terms', 'HN terms', 'fit result'], loc='upper left',
          bbox_to_anchor=(0.017, 0.526), frameon=False, fontsize=12, handlelength=2.2,
          handletextpad=0.35, labelspacing=0.3, borderpad=0, borderaxespad=0, numpoints=1)
txt(ax, 0.538, 0.931, 'POEGMA-long', BLUE, 15.5, 'center')
txt(ax, 0.809, 0.931, r'-60 $^{\rm o}$C', 'black', 16, 'center')
txt(ax, 0.440, 0.354, r'$\beta$', BLUE, 12, 'center')
txt(ax, 0.760, 0.560, r'$\gamma^{\rm long}_{\rm POEGMA}$', BLUE, 12)

# ---------------- panel letters ----------------
for s, x, y in [('a', 33, 45), ('b', 636, 37), ('c', 25, 526), ('d', 637, 523),
                ('e', 25, 1011), ('f', 632, 1008)]:
    fig.text(x / W, 1 - y / H, s, fontsize=32, ha='center', va='center')

fig.savefig('out.png', dpi=100)
